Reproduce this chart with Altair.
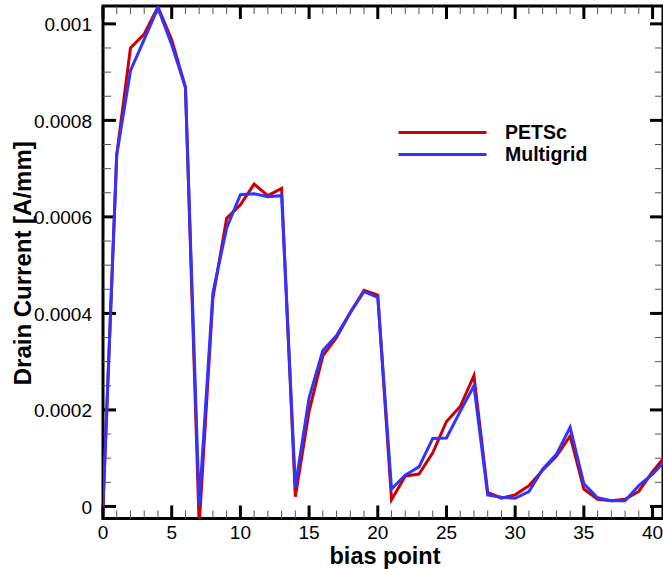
import altair as alt
import pandas as pd

# ---- data ----
bias = list(range(42))
petsc = [0.0, 0.000729, 0.000950, 0.000979, 0.001035, 0.000967, 0.000869, -0.00004,
         0.000432, 0.000597, 0.000625, 0.000668, 0.000644, 0.000659, 0.000020,
         0.000197, 0.000312, 0.000350, 0.000402, 0.000448, 0.000438, 0.000014,
         0.000063, 0.000067, 0.000111, 0.000176, 0.000207, 0.000271, 0.000029,
         0.000017, 0.000024, 0.000043, 0.000075, 0.000104, 0.000146, 0.000036,
         0.000015, 0.000012, 0.000015, 0.000031, 0.000072, 0.000107]
multigrid = [0.0, 0.000729, 0.000903, 0.000968, 0.001033, 0.000957, 0.000868, 0.000002,
             0.000443, 0.000577, 0.000646, 0.000648, 0.000642, 0.000644, 0.000041,
             0.000225, 0.000323, 0.000354, 0.000402, 0.000445, 0.000433, 0.000036,
             0.000065, 0.000082, 0.000141, 0.000142, 0.000197, 0.000250, 0.000024,
             0.000019, 0.000017, 0.000031, 0.000077, 0.000108, 0.000164, 0.000047,
             0.000018, 0.000012, 0.000012, 0.000043, 0.000067, 0.000097]
series_names = ["PETSc", "Multigrid"]
series_colors = ["#cc0000", "#3333ff"]

x_major = [0, 5, 10, 15, 20, 25, 30, 35, 40]
x_labels = ["0", "5", "10", "15", "20", "25", "30", "35", "40"]
x_minor = [1, 2, 3, 4, 6, 7, 8, 9, 11, 12, 13, 14, 16, 17, 18, 19, 21, 22, 23, 24,
           26, 27, 28, 29, 31, 32, 33, 34, 36, 37, 38, 39]
y_major = [0, 0.0002, 0.0004, 0.0006, 0.0008, 0.001]
y_labels = ["0", "0.0002", "0.0004", "0.0006", "0.0008", "0.001"]
y_minor = [0.00005, 0.0001, 0.00015, 0.00025, 0.0003, 0.00035, 0.00045, 0.0005,
           0.00055, 0.00065, 0.0007, 0.00075, 0.00085, 0.0009, 0.00095]
x_title = "bias point"
y_title = "Drain Current [A/mm]"

W = 560
H = 512.5
FONT = "Liberation Sans"

df = pd.DataFrame({
    "bias": bias + bias,
    "current": petsc + multigrid,
    "series": ["PETSc"] * len(petsc) + ["Multigrid"] * len(multigrid),
})

xscale = alt.Scale(domain=[0, 40.76], nice=False, zero=False)
yscale = alt.Scale(domain=[-0.000025, 0.001037], nice=False, zero=False)

lines = alt.Chart(df).mark_line(strokeWidth=3, clip=True).encode(
    x=alt.X("bias:Q", scale=xscale, axis=None),
    y=alt.Y("current:Q", scale=yscale, axis=None),
    color=alt.Color("series:N",
                    scale=alt.Scale(domain=series_names, range=series_colors),
                    legend=alt.Legend(title=None, orient="none", legendX=327, legendY=114,
                                      symbolType="M-4,0H4", symbolSize=484,
                                      symbolStrokeWidth=3, labelFont=FONT,
                                      labelFontWeight="bold", labelFontSize=19.5,
                                      labelColor="black", labelOffset=50, padding=0,
                                      rowPadding=0)),
)

xmaj = pd.DataFrame({"t": x_major, "lbl": x_labels})
xmin = pd.DataFrame({"t": x_minor})
ymaj = pd.DataFrame({"t": y_major, "lbl": y_labels})
ymin = pd.DataFrame({"t": y_minor})


def xticks(data, y0, y1, sw, col):
    return alt.Chart(data).mark_rule(strokeWidth=sw, color=col).encode(
        x=alt.X("t:Q", scale=xscale, axis=None),
        y=alt.value(y0), y2=alt.value(y1))


def yticks(data, x0, x1, sw, col):
    return alt.Chart(data).mark_rule(strokeWidth=sw, color=col).encode(
        y=alt.Y("t:Q", scale=yscale, axis=None),
        x=alt.value(x0), x2=alt.value(x1))


MAJ, MIN = 13, 8
ticks = [
    xticks(xmaj, H, H - MAJ, 3, "black"),
    xticks(xmaj, 0, MAJ, 3, "black"),
    xticks(xmin, H, H - MIN, 1, "#555555"),
    xticks(xmin, 0, MIN, 1, "#555555"),
    yticks(ymaj, 0, MAJ, 3, "black"),
    yticks(ymaj, W, W - MAJ, 3, "black"),
    yticks(ymin, 0, MIN, 1, "#555555"),
    yticks(ymin, W, W - MIN, 1, "#555555"),
]

# tick labels and axis titles as text marks
x_lab = alt.Chart(xmaj).mark_text(font=FONT, fontSize=19, color="black",
                                  align="center", baseline="alphabetic").encode(
    x=alt.X("t:Q", scale=xscale, axis=None), y=alt.value(H + 20), text="lbl:N")
y_lab = alt.Chart(ymaj).mark_text(font=FONT, fontSize=19, color="black",
                                  align="right", baseline="alphabetic", dy=7.5).encode(
    y=alt.Y("t:Q", scale=yscale, axis=None), x=alt.value(-11), text="lbl:N")
x_tit = alt.Chart(pd.DataFrame({"txt": [x_title]})).mark_text(
    font=FONT, fontSize=23.5, fontWeight="bold", color="black",
    align="center", baseline="alphabetic").encode(
    x=alt.value(W / 2 + 2), y=alt.value(H + 45.5), text="txt:N")
y_tit = alt.Chart(pd.DataFrame({"txt": [y_title]})).mark_text(
    font=FONT, fontSize=24, fontWeight="bold", color="black", angle=270,
    align="center", baseline="alphabetic").encode(
    x=alt.value(-72), y=alt.value(H / 2 + 1), text="txt:N")

chart = alt.layer(*ticks, x_lab, y_lab, x_tit, y_tit, lines).properties(
    width=W, height=H,
    padding={"left": 103, "top": 6, "right": 0, "bottom": 50.5},
    autosize=alt.AutoSizeParams(type="none"),
).configure(background="white").configure_view(stroke="black", strokeWidth=3)

chart.save("out.html", embed_options={"renderer": "svg", "actions": False})
